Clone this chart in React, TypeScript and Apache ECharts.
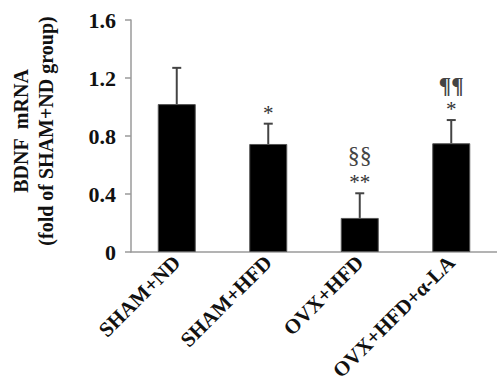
import React, { useEffect, useRef } from "react";
import * as echarts from "echarts";

const categories = ["SHAM+ND", "SHAM+HFD", "OVX+HFD", "OVX+HFD+α-LA"];
const means = [1.02, 0.745, 0.235, 0.75];
const errors = [0.25, 0.14, 0.17, 0.16];
const starMarks = ["", "*", "**", "*"];
const symbolMarks = ["", "", "§§", "¶¶"];
const yTitleLines = ["BDNF  mRNA", "(fold of SHAM+ND group)"];

const SERIF = "'Liberation Serif', 'Times New Roman', serif";

export default function App() {
  const ref = useRef<HTMLDivElement>(null);
  useEffect(() => {
    const chart = echarts.init(ref.current!, null, { renderer: "svg" });
    const errData = means.map((m, i) => [i, m, m + errors[i]]);
    chart.setOption({
      animation: false,
      backgroundColor: "#ffffff",
      grid: { left: 131, top: 20, width: 368, height: 232, containLabel: false },
      graphic: yTitleLines.map((t, k) => ({
        type: "text",
        x: k === 0 ? 21 : 46,
        y: 131,
        rotation: Math.PI / 2,
        style: {
          text: t,
          align: "center",
          verticalAlign: "middle",
          font: `bold 20px ${SERIF}`,
          fill: "#111",
        },
      })),
      xAxis: {
        type: "category",
        data: categories,
        axisLine: { lineStyle: { color: "#9a9a9a", width: 1.5 } },
        axisTick: { show: false },
        axisLabel: {
          rotate: 45,
          interval: 0,
          margin: 7,
          color: "#111",
          fontFamily: SERIF,
          fontWeight: "bold",
          fontSize: 21,
        },
      },
      yAxis: {
        type: "value",
        min: 0,
        max: 1.6,
        interval: 0.4,
        axisLine: { show: true, lineStyle: { color: "#9a9a9a", width: 1.5 } },
        axisTick: { show: true, inside: false, length: 6, lineStyle: { color: "#9a9a9a", width: 1.5 } },
        splitLine: { show: false },
        axisLabel: {
          margin: 15,
          color: "#111",
          fontFamily: SERIF,
          fontWeight: "bold",
          fontSize: 22,
          formatter: (v: number) => (v === 0 ? "0" : v.toFixed(1)),
        },
      },
      series: [
        {
          type: "bar",
          data: means,
          barWidth: 38,
          itemStyle: { color: "#000000", borderColor: "#555", borderWidth: 1 },
          z: 2,
        },
        {
          type: "custom",
          data: errData,
          z: 3,
          renderItem: (params: any, api: any) => {
            const i = api.value(0);
            const base = api.coord([i, api.value(1)]);
            const top = api.coord([i, api.value(2)]);
            const x = base[0];
            const star = starMarks[params.dataIndex];
            const sym = symbolMarks[params.dataIndex];
            const children: any[] = [
              {
                type: "line",
                shape: { x1: x, y1: base[1], x2: x, y2: top[1] },
                style: { stroke: "#444", lineWidth: 2 },
              },
              {
                type: "line",
                shape: { x1: x - 4.5, y1: top[1], x2: x + 4.5, y2: top[1] },
                style: { stroke: "#444", lineWidth: 2 },
              },
            ];
            if (star) {
              children.push({
                type: "text",
                style: {
                  text: star,
                  x: x,
                  y: top[1] - 11,
                  align: "center",
                  verticalAlign: "middle",
                  font: `21px ${SERIF}`,
                  fill: "#333",
                },
              });
            }
            if (sym) {
              const isPara = sym === "¶¶";
              children.push({
                type: "text",
                style: {
                  text: sym,
                  x: x,
                  y: top[1] - (isPara ? 35 : 38),
                  align: "center",
                  verticalAlign: "middle",
                  font: `${isPara ? "bold 23px" : "24px"} ${SERIF}`,
                  fill: "#444",
                },
              });
            }
            return { type: "group", children };
          },
        },
      ],
    });
    return () => chart.dispose();
  }, []);
  return (
    <div
      ref={ref}
      style={{ position: "fixed", left: 0, top: 0, width: 497, height: 392, background: "#fff" }}
    />
  );
}
